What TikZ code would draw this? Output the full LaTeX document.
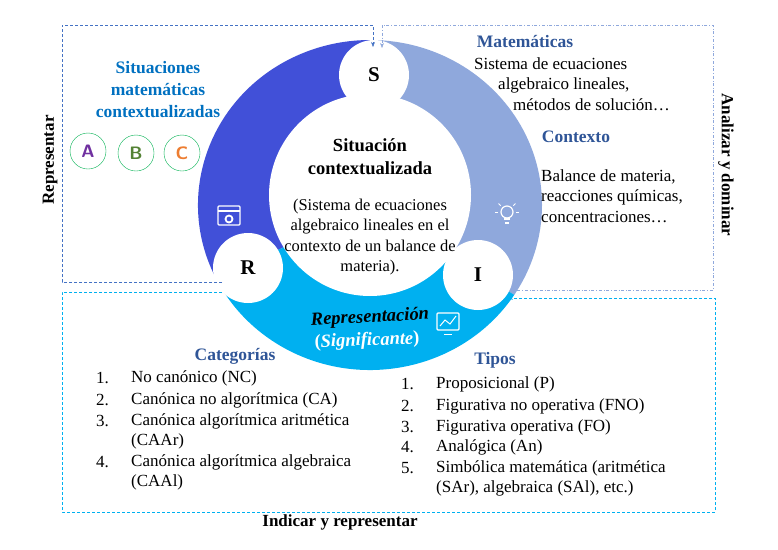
\documentclass[tikz,border=0pt]{standalone}
\usepackage{fontspec}
\setmainfont{Liberation Serif}
\usetikzlibrary{arrows.meta}
\definecolor{ringdark}{HTML}{4150D8}
\definecolor{ringlight}{HTML}{8FA8DC}
\definecolor{ringcyan}{HTML}{00B0F0}
\definecolor{headblue}{HTML}{2F5597}
\definecolor{sitblue}{HTML}{0070C0}
\definecolor{boxblue}{HTML}{4472C4}
\definecolor{letA}{HTML}{7030A0}
\definecolor{letB}{HTML}{548235}
\definecolor{letC}{HTML}{ED7D31}
\definecolor{ringgreen}{HTML}{00B050}

\tikzset{
  body/.style={font=\fontsize{17}{20.5}\selectfont, inner sep=0pt},
  head/.style={font=\fontsize{17.5}{21}\selectfont\bfseries, text=headblue, inner sep=0pt},
  letter/.style={circle, draw=ringgreen, minimum size=36pt, inner sep=0pt, font=\fontsize{18}{18}\sffamily\bfseries},
  knot/.style={circle, fill=white, minimum size=70pt, inner sep=0pt, font=\fontsize{21}{21}\selectfont\bfseries},
  side/.style={font=\fontsize{17}{17}\selectfont\bfseries, inner sep=0pt}
}

\begin{document}
\begin{tikzpicture}[x=1pt, y=-1pt]
  \useasboundingbox (0,0) rectangle (778,549);

  % ring
  \coordinate (c) at (370,205);
  \fill[ringdark]  (c) -- ++(153:172 and 165) arc[start angle=153, end angle=270, x radius=172, y radius=165] -- cycle;
  \fill[ringlight] (c) -- ++(270:172 and 165) arc[start angle=270, end angle=393, x radius=172, y radius=165] -- cycle;
  \fill[ringcyan]  (c) -- ++(33:172 and 165) arc[start angle=33, end angle=153, x radius=172, y radius=165] -- cycle;
  \fill[white] (370,195) circle[radius=101];

  \node[knot] (s) at (374,75) {S};
  \node[knot] (r) at (248,268) {R};
  \node[knot] (i) at (478,275) {I};

  % icons
  \draw[white, line width=1.2pt, rounded corners=1pt] (218,206) rectangle (240,225);
  \draw[white, line width=1.2pt] (218,211) -- (240,211);
  \draw[white, line width=1.8pt] (229,219) circle[radius=3.5];
  \draw[white, line width=1.2pt] (507,212) circle[radius=6];
  \draw[white, line width=1.2pt] (504,219) -- (510,219) (505,223) -- (509,223);
  \foreach \a in {0,45,135,180} \draw[white, line width=1pt] (507,212) ++(-\a:9) -- ++(-\a:3);
  \draw[white, line width=1.2pt, rounded corners=1pt] (437,313) rectangle (459,330);
  \draw[white, line width=1pt] (444,334) -- (452,334);
  \draw[white, line width=1pt] (440,326) -- (445,320) -- (450,324) -- (456,316);

  % dashed frames
  \coordinate (l0) at (222,282); \coordinate (l1) at (62,282); \coordinate (l2) at (62,25);
  \coordinate (l3) at (373,25); \coordinate (l4) at (373,47);
  \draw[boxblue, densely dashed, -{Stealth[length=5pt]}] (l0) -- (l1) -- (l2) -- (l3) -- (l4);
  \coordinate (m0) at (510,290); \coordinate (m1) at (713,290); \coordinate (m2) at (713,25);
  \coordinate (m3) at (382,25); \coordinate (m4) at (382,48);
  \draw[ringlight, dash dot, -{Stealth[length=5pt]}] (m0) -- (m1) -- (m2) -- (m3) -- (m4);
  \coordinate (b0) at (222,292); \coordinate (b1) at (62,292); \coordinate (b2) at (62,512);
  \coordinate (b3) at (715,512); \coordinate (b4) at (715,298); \coordinate (b5) at (508,298);
  \draw[ringcyan, densely dashed, -{Stealth[length=5pt]}] (b0) -- (b1) -- (b2) -- (b3) -- (b4) -- (b5);

  % side labels
  \node[side, rotate=90] (rep) at (50,160) {Representar};
  \node[side, rotate=-90] (ana) at (726,165) {Analizar y dominar};
  \node[side] (ind) at (340,522) {Indicar y representar};

  % left block
  \node[head, text=sitblue, align=center, font=\fontsize{17.5}{22}\selectfont\bfseries] (sit) at (158,90) {Situaciones\\matemáticas\\contextualizadas};
  \node[letter, text=letA] (la) at (88,151) {A};
  \node[letter, text=letB] (lb) at (136,153) {B};
  \node[letter, text=letC] (lc) at (182,153) {C};

  % right block
  \node[head] (mat) at (525,42) {Matemáticas};
  \node[body, align=left, anchor=west] (mattxt) at (474,84) {Sistema de ecuaciones\\\hspace*{24pt}algebraico lineales,\\\hspace*{39pt}métodos de solución…};
  \node[head] (ctx) at (576,137) {Contexto};
  \node[body, align=left, anchor=west] (ctxtxt) at (541,196) {Balance de materia,\\reacciones químicas,\\concentraciones…};

  % center
  \node[body, align=center, font=\fontsize{18.5}{23}\selectfont\bfseries] (cen) at (370,157) {Situación\\contextualizada};
  \node[body, align=center, font=\fontsize{16.5}{20.5}\selectfont] (centxt) at (370,237) {(Sistema de ecuaciones\\algebraico lineales en el\\contexto de un balance de\\materia).};
  \node[body, rotate=3, font=\fontsize{18.5}{18}\selectfont\bfseries\itshape] (repr) at (370,318) {Representación};
  \node[body, rotate=2, text=white, font=\fontsize{18.5}{18}\selectfont\bfseries] (sig) at (367,341) {(\textit{Significante})};

  % categorias
  \node[head] (cat) at (235,356) {Categorías};
  \foreach \n/\y in {1/378,2/400,3/421,4/462}
    \node[body, anchor=west] at (96,\y) {\n.};
  \node[body, anchor=west] (c1) at (131,378) {No canónico (NC)};
  \node[body, anchor=west] (c2) at (131,400) {Canónica no algorítmica (CA)};
  \node[body, anchor=west] (c3) at (131,421) {Canónica algorítmica aritmética};
  \node[body, anchor=west] (c3b) at (131,441) {(CAAr)};
  \node[body, anchor=west] (c4) at (131,462) {Canónica algorítmica algebraica};
  \node[body, anchor=west] (c4b) at (131,482) {(CAAl)};

  % tipos
  \node[head] (tip) at (495,360) {Tipos};
  \foreach \n/\y in {1/384,2/406,3/427,4/447,5/468}
    \node[body, anchor=west] at (401,\y) {\n.};
  \node[body, anchor=west] (t1) at (436,384) {Proposicional (P)};
  \node[body, anchor=west] (t2) at (436,406) {Figurativa no operativa (FNO)};
  \node[body, anchor=west] (t3) at (436,427) {Figurativa operativa (FO)};
  \node[body, anchor=west] (t4) at (436,447) {Analógica (An)};
  \node[body, anchor=west] (t5) at (436,468) {Simbólica matemática (aritmética};
  \node[body, anchor=west] (t5b) at (436,488) {(SAr), algebraica (SAl), etc.)};
\end{tikzpicture}
\end{document}
